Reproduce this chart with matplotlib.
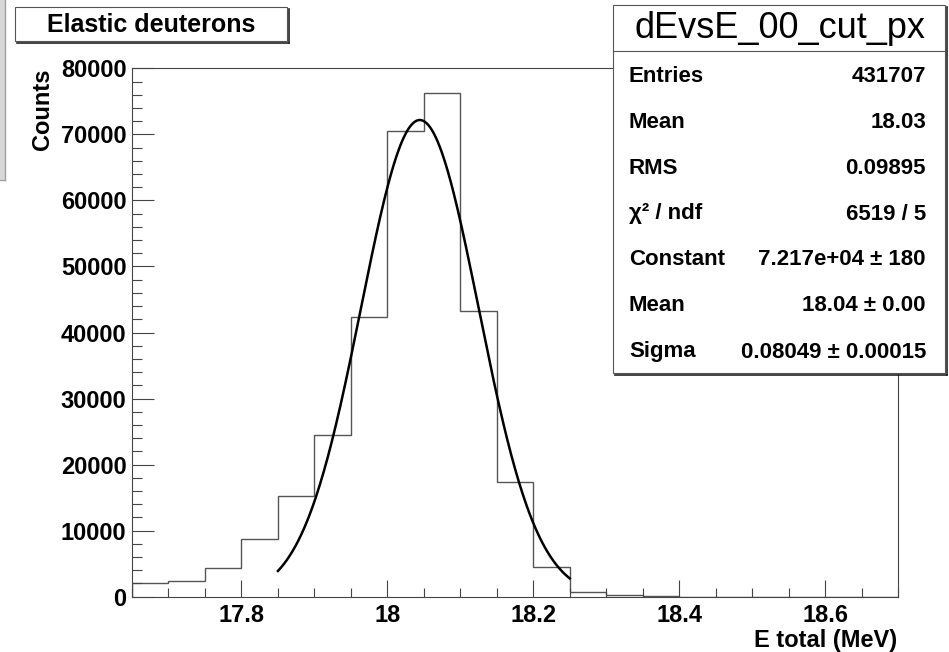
import numpy as np
import matplotlib
matplotlib.use('Agg')
import matplotlib.pyplot as plt
from matplotlib.patches import Rectangle
from matplotlib.lines import Line2D

plt.rcParams['font.family'] = ['Liberation Sans', 'DejaVu Sans']

# histogram: 21 bins of 0.05 MeV starting at 17.65
bin_lo = 17.65
bin_width = 0.05
counts = [2000, 2380, 4300, 8700, 15200, 24500, 42300, 70500, 76200, 43300,
          17400, 4450, 760, 280, 170, 0, 0, 0, 0, 0, 0]

# gaussian fit parameters
fit_const = 72170
fit_mean = 18.0445
fit_sigma = 0.08049
fit_range = (17.85, 18.25)

x_ticks = [17.8, 18.0, 18.2, 18.4, 18.6]
x_ticklabels = ['17.8', '18', '18.2', '18.4', '18.6']
y_ticks = [0, 10000, 20000, 30000, 40000, 50000, 60000, 70000, 80000]

stats_labels = ['Entries', 'Mean', 'RMS', 'χ² / ndf', 'Constant', 'Mean', 'Sigma']
stats_values = ['431707', '18.03', '0.09895', '6519 / 5',
                '7.217e+04 ± 180', '18.04 ± 0.00', '0.08049 ± 0.00015']

W, H = 949, 652
fig = plt.figure(figsize=(W / 100, H / 100), dpi=100)

def fx(px):
    return px / W

def fy(py):
    return 1 - py / H

ax = fig.add_axes([fx(132), fy(596.7), fx(898) - fx(132), fy(68.3) - fy(596.7)])

edges = bin_lo + bin_width * np.arange(len(counts) + 1)
ax.stairs(counts, edges, color='#555555', linewidth=1.0)

xf = np.linspace(fit_range[0], fit_range[1], 300)
yf = fit_const * np.exp(-0.5 * ((xf - fit_mean) / fit_sigma) ** 2)
ax.plot(xf, yf, color='black', linewidth=1.8)

ax.set_xlim(edges[0], 18.70)
ax.set_ylim(0, 80000)
ax.set_xticks(x_ticks)
ax.set_xticklabels(x_ticklabels)
ax.set_xticks(np.arange(17.65, 18.70, 0.05), minor=True)
ax.set_yticks(y_ticks)
ax.set_yticklabels([str(v) for v in y_ticks])
ax.set_yticks(np.arange(0, 80001, 2000), minor=True)

for s in ax.spines.values():
    s.set_color('#444444')
    s.set_linewidth(0.8)

ax.tick_params(axis='both', which='both', direction='in', color='#444444', width=0.8)
ax.tick_params(axis='x', which='major', length=12, pad=5, labelsize=17)
ax.tick_params(axis='x', which='minor', length=6.5)
ax.tick_params(axis='y', which='major', length=16, pad=4, labelsize=17)
ax.tick_params(axis='y', which='minor', length=7.5)
ax.tick_params(top=False, right=False, which='both')
for lab in ax.get_xticklabels() + ax.get_yticklabels():
    lab.set_fontweight('bold')

fig.text(fx(42.5), fy(68), 'Counts', rotation=90, ha='center', va='top',
         fontsize=17, fontweight='bold')
fig.text(fx(897), fy(641), 'E total (MeV)', ha='right', va='center',
         fontsize=17, fontweight='bold')

# left window frame remnant
fig.patches.append(Rectangle((0, fy(180)), fx(5), fy(0) - fy(180), transform=fig.transFigure,
                             facecolor='#d8d8d8', edgecolor='none'))
fig.add_artist(Line2D([fx(5), fx(5)], [fy(0), fy(180)], color='#a0a0a0', lw=1, transform=fig.transFigure))
fig.add_artist(Line2D([0, fx(5)], [fy(180), fy(180)], color='#a0a0a0', lw=1, transform=fig.transFigure))

def box(x0, y0, x1, y1):
    # shadow then box
    fig.add_artist(Line2D([fx(x1 + 1.5), fx(x1 + 1.5)], [fy(y0 + 2), fy(y1 + 1.5)],
                          color='#222222', lw=1.2, transform=fig.transFigure))
    fig.add_artist(Line2D([fx(x0 + 2), fx(x1 + 1.5)], [fy(y1 + 1.5), fy(y1 + 1.5)],
                          color='#222222', lw=1.2, transform=fig.transFigure))
    fig.add_artist(Rectangle((fx(x0), fy(y1)), fx(x1) - fx(x0), fy(y0) - fy(y1),
                             transform=fig.transFigure, facecolor='white',
                             edgecolor='#555555', lw=0.8, zorder=3))

# title box
box(15, 7, 287, 41)
fig.text(fx(151), fy(25), 'Elastic deuterons', ha='center', va='center',
         fontsize=18, fontweight='bold', zorder=4)

# stats box
box(613, 5, 945, 373)
fig.add_artist(Line2D([fx(613), fx(945)], [fy(51), fy(51)], color='#555555', lw=0.8,
                      transform=fig.transFigure, zorder=4))
fig.text(fx(780), fy(29), 'dEvsE_00_cut_px', ha='center', va='center',
         fontsize=26, zorder=4)
row_h = (373 - 51) / len(stats_labels)
for i, (lab, val) in enumerate(zip(stats_labels, stats_values)):
    yc = 51 + row_h * (i + 0.5) + 2
    fig.text(fx(629), fy(yc), lab, ha='left', va='center', fontsize=16,
             fontweight='bold', zorder=4)
    fig.text(fx(926), fy(yc), val, ha='right', va='center', fontsize=16,
             fontweight='bold', zorder=4)

fig.savefig('out.png', dpi=100)
